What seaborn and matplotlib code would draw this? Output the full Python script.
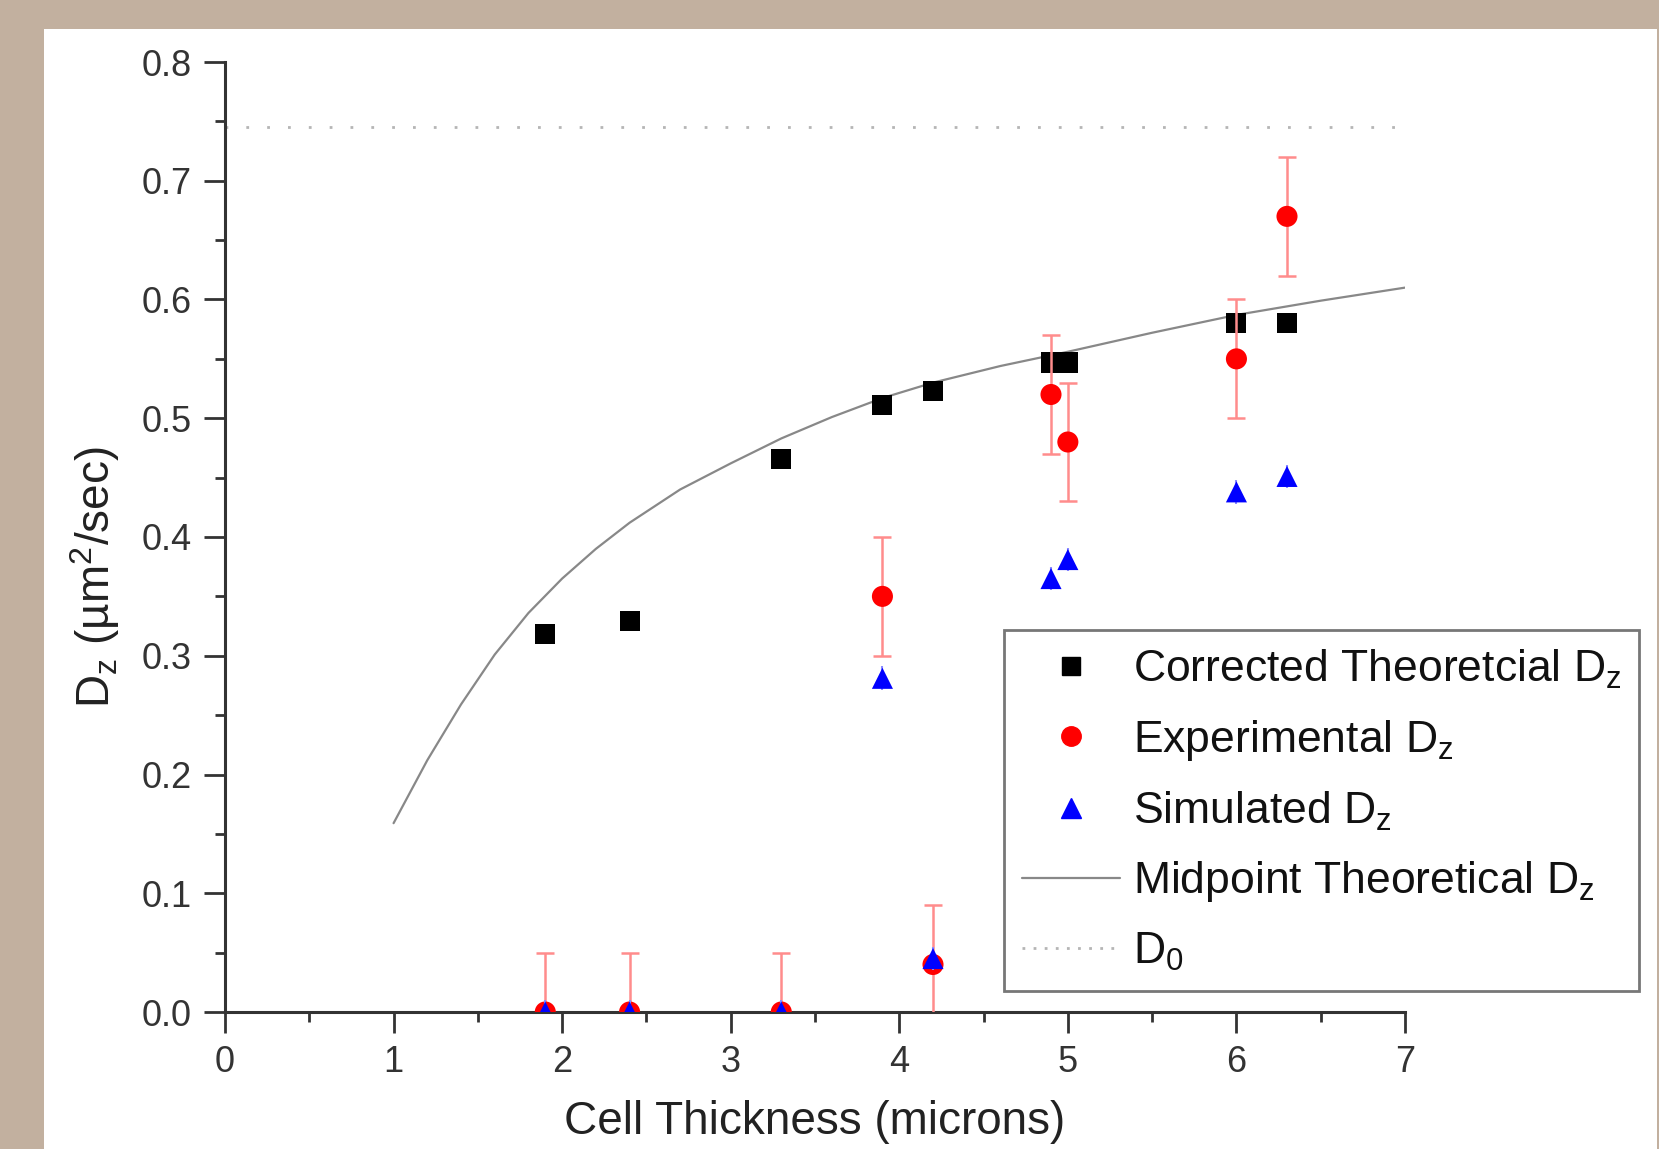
import numpy as np
import pandas as pd
import matplotlib
matplotlib.use("Agg")
import matplotlib.pyplot as plt
from matplotlib.patches import Rectangle
from matplotlib.lines import Line2D
from matplotlib.ticker import MultipleLocator, FormatStrFormatter
import seaborn as sns

# Дані з графіка
thickness = [1.9, 2.4, 3.3, 3.9, 4.2, 4.9, 5.0, 6.0, 6.3]
corrected_dz = [0.318, 0.329, 0.466, 0.511, 0.523, 0.547, 0.547, 0.580, 0.580]
experimental_dz = [0.0, 0.0, 0.0, 0.35, 0.04, 0.52, 0.48, 0.55, 0.67]
experimental_err = [0.05, 0.05, 0.05, 0.05, 0.05, 0.05, 0.05, 0.05, 0.05]
simulated_dz = [0.0, 0.0, 0.0, 0.281, 0.045, 0.365, 0.381, 0.438, 0.451]
simulated_err = [0.01, 0.01, 0.01, 0.01, 0.01, 0.01, 0.01, 0.01, 0.01]

midpoint_x = [1.0, 1.2, 1.4, 1.6, 1.8, 2.0, 2.2, 2.4, 2.7, 3.0, 3.3, 3.6, 3.9, 4.2,
              4.6, 5.0, 5.5, 6.0, 6.5, 7.0]
midpoint_dz = [0.159, 0.212, 0.259, 0.301, 0.336, 0.365, 0.390, 0.412, 0.440, 0.462,
               0.483, 0.501, 0.517, 0.530, 0.544, 0.556, 0.572, 0.587, 0.599, 0.610]
d0 = 0.745

x_ticks = [0, 1, 2, 3, 4, 5, 6, 7]

df = pd.DataFrame({"x": thickness, "corr": corrected_dz, "exp": experimental_dz,
                   "exp_err": experimental_err, "sim": simulated_dz, "sim_err": simulated_err})
mid = pd.DataFrame({"x": midpoint_x, "dz": midpoint_dz})

sns.set_style("white")
plt.rcParams["font.family"] = ["Liberation Sans", "DejaVu Sans"]
plt.rcParams["mathtext.fontset"] = "custom"
plt.rcParams["mathtext.rm"] = "Liberation Sans"
plt.rcParams["mathtext.it"] = "Liberation Sans:italic"

fig = plt.figure(figsize=(16.59, 11.49), dpi=100)
fig.patch.set_facecolor("#c2b09f")
fig.add_artist(Rectangle((44 / 1659, 0), (1657 - 44) / 1659, 1 - 29 / 1149,
                         transform=fig.transFigure, facecolor="white",
                         edgecolor="none", zorder=-10))

ax = fig.add_axes([225 / 1659, 1 - 1012 / 1149, 1180 / 1659, 950 / 1149])
ax.set_facecolor("none")

# D0 та теоретична крива
ax.axhline(d0, color="#b5b5b5", linestyle=(0, (1, 6.5)), linewidth=2, zorder=1)
sns.lineplot(data=mid, x="x", y="dz", ax=ax, color="#888888", linewidth=1.6, zorder=2)

sns.scatterplot(data=df, x="x", y="corr", ax=ax, marker="s", s=210, color="black",
                edgecolor="none", zorder=3)
ax.errorbar(df["x"], df["exp"], yerr=df["exp_err"], fmt="none", ecolor="#ff8c8c",
            elinewidth=1.8, capsize=6.5, capthick=1.8, zorder=4)
sns.scatterplot(data=df, x="x", y="exp", ax=ax, marker="o", s=230, color="red",
                edgecolor="none", zorder=5)
ax.errorbar(df["x"], df["sim"], yerr=df["sim_err"], fmt="none", ecolor="#8c8cff",
            elinewidth=1.5, capsize=0, zorder=6)
sns.scatterplot(data=df, x="x", y="sim", ax=ax, marker="^", s=230, color="blue",
                edgecolor="none", zorder=7)

ax.set_xlim(0, 7)
ax.set_ylim(0, 0.8)
ax.set_xticks(x_ticks)
ax.xaxis.set_minor_locator(MultipleLocator(0.5))
ax.yaxis.set_major_locator(MultipleLocator(0.1))
ax.yaxis.set_minor_locator(MultipleLocator(0.05))
ax.yaxis.set_major_formatter(FormatStrFormatter("%.1f"))

for side in ["top", "right"]:
    ax.spines[side].set_visible(False)
for side in ["left", "bottom"]:
    ax.spines[side].set_color("#333333")
    ax.spines[side].set_linewidth(2.2)

ax.tick_params(which="major", direction="out", length=15, width=2, color="#333333",
               labelsize=26, labelcolor="#333333", pad=9, left=True, bottom=True)
ax.tick_params(which="minor", direction="out", length=7.5, width=2, color="#333333",
               left=True, bottom=True)

ax.set_xlabel("Cell Thickness (microns)", fontsize=33, color="#222222", labelpad=14)
ax.set_ylabel(r"D$\mathregular{_z}$ (µm$\mathregular{^2}$/sec)", fontsize=33, color="#222222")
ax.yaxis.set_label_coords(-0.087, 0.458)

handles = [
    Line2D([], [], marker="s", color="black", linestyle="none", markersize=13),
    Line2D([], [], marker="o", color="red", linestyle="none", markersize=14),
    Line2D([], [], marker="^", color="blue", linestyle="none", markersize=14),
    Line2D([], [], color="#888888", linewidth=1.6),
    Line2D([], [], color="#b5b5b5", linestyle=(0, (1, 3)), linewidth=2),
]
labels = [
    r"Corrected Theoretcial D$\mathregular{_z}$",
    r"Experimental D$\mathregular{_z}$",
    r"Simulated D$\mathregular{_z}$",
    r"Midpoint Theoretical D$\mathregular{_z}$",
    r"D$\mathregular{_0}$",
]
leg = ax.legend(handles, labels, loc="upper left",
                bbox_to_anchor=(1004 / 1659, 1 - 630 / 1149), bbox_transform=fig.transFigure,
                fontsize=32, frameon=True, fancybox=False, edgecolor="#777777",
                framealpha=1, handlelength=2.2, handletextpad=0.3, labelspacing=0.6,
                borderpad=0.4, borderaxespad=0)
leg.get_frame().set_linewidth(2)
for t in leg.get_texts():
    t.set_color("#111111")

fig.savefig("out.png", dpi=100, facecolor=fig.get_facecolor())
